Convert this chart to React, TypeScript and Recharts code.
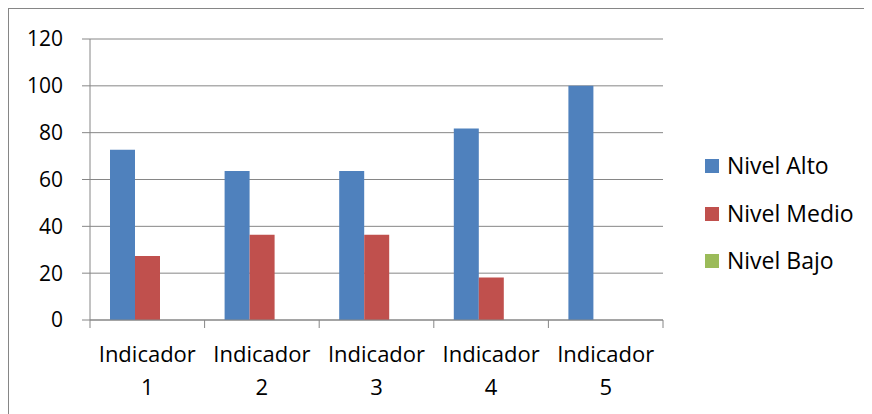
import { BarChart, Bar, XAxis, YAxis, CartesianGrid } from 'recharts'

const categories = ['Indicador 1', 'Indicador 2', 'Indicador 3', 'Indicador 4', 'Indicador 5']
const nivelAlto = [72.7, 63.6, 63.6, 81.8, 100]
const nivelMedio = [27.3, 36.4, 36.4, 18.2, 0]
const nivelBajo = [0, 0, 0, 0, 0]
const yTicks = [0, 20, 40, 60, 80, 100, 120]

const series = [
  { key: 'alto', name: 'Nivel Alto', color: '#4F81BD', values: nivelAlto },
  { key: 'medio', name: 'Nivel Medio', color: '#C0504D', values: nivelMedio },
  { key: 'bajo', name: 'Nivel Bajo', color: '#9BBB59', values: nivelBajo },
]

const data = categories.map((name, i) => ({
  name,
  alto: nivelAlto[i],
  medio: nivelMedio[i],
  bajo: nivelBajo[i],
}))

const FONT = '"Open Sans", sans-serif'
const AXIS = '#868686'
const W = 860
const H = 410
const M = { top: 30, right: 206, left: 0, bottom: 19 }
const Y_W = 81
const band = (W - M.left - M.right - Y_W) / categories.length

function CategoryTick(props: any) {
  const { x, y, payload, index } = props
  const [word, num] = String(payload.value).split(' ')
  return (
    <g>
      <line x1={x - band / 2} y1={y} x2={x - band / 2} y2={y + 8} stroke={AXIS} />
      {index === categories.length - 1 && (
        <line x1={x + band / 2} y1={y} x2={x + band / 2} y2={y + 8} stroke={AXIS} />
      )}
      <text x={x} y={y + 42} textAnchor="middle" fontSize={22} fontFamily={FONT} fill="#000">
        {word}
      </text>
      <text x={x} y={y + 75} textAnchor="middle" fontSize={22} fontFamily={FONT} fill="#000">
        {num}
      </text>
    </g>
  )
}

export default function App() {
  return (
    <div
      style={{
        position: 'relative',
        width: 862,
        height: 412,
        boxSizing: 'border-box',
        border: `1px solid ${AXIS}`,
        fontFamily: FONT,
      }}
    >
      <BarChart width={W} height={H} data={data} margin={M} barCategoryGap={20} barGap={0}>
        <CartesianGrid vertical={false} stroke={AXIS} />
        <XAxis
          dataKey="name"
          interval={0}
          height={80}
          tickLine={false}
          tickSize={0}
          tickMargin={0}
          stroke={AXIS}
          tick={<CategoryTick />}
        />
        <YAxis
          domain={[0, 120]}
          ticks={yTicks}
          width={Y_W}
          tickSize={8}
          tickMargin={19}
          stroke={AXIS}
          tick={{ fontSize: 21, fill: '#000', fontFamily: FONT }}
        />
        {series.map((s) => (
          <Bar key={s.key} dataKey={s.key} name={s.name} fill={s.color} isAnimationActive={false} />
        ))}
      </BarChart>
      {series.map((s, i) => (
        <div
          key={s.key}
          style={{
            position: 'absolute',
            left: 696,
            top: 144 + i * 47.5,
            height: 24,
            lineHeight: '24px',
            display: 'flex',
            fontSize: 23,
            color: '#000',
            whiteSpace: 'nowrap',
          }}
        >
          <span style={{ width: 14, height: 14, marginTop: 6, marginRight: 8, background: s.color }} />
          <span>{s.name}</span>
        </div>
      ))}
    </div>
  )
}
